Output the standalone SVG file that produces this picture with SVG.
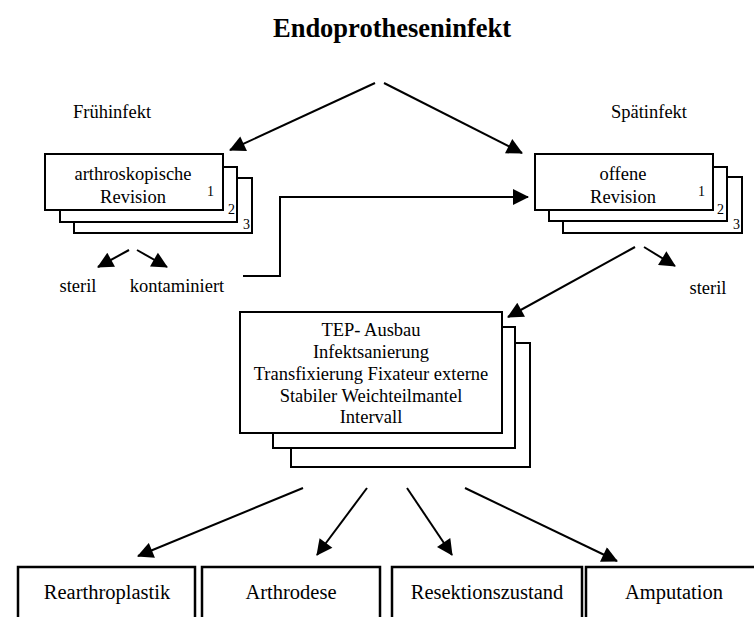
<svg xmlns="http://www.w3.org/2000/svg" width="754" height="617" viewBox="0 0 754 617">
<style>
text{font-family:"Liberation Serif","Times New Roman",serif;fill:#000}
.t{font-size:18.5px;text-anchor:middle}
.n{font-size:14px}
.b{font-size:20.5px;text-anchor:middle}
.box{fill:#fff;stroke:#000;stroke-width:2}
.ob{fill:#fff;stroke:#000;stroke-width:2.5}
.c{fill:none;stroke:#000;stroke-width:2;marker-end:url(#a)}
</style>
<defs>
<marker id="a" viewBox="0 0 16 16" refX="15" refY="8" markerWidth="17" markerHeight="16" markerUnits="userSpaceOnUse" orient="auto">
<path d="M0,0 L16,8 L0,16 Z" fill="#000"/>
</marker>
</defs>
<rect width="754" height="617" fill="#fff"/>
<text x="392" y="37" style="font-size:26.5px;font-weight:bold;text-anchor:middle">Endoprotheseninfekt</text>
<text class="t" x="112" y="118">Frühinfekt</text>
<text class="t" x="649" y="118">Spätinfekt</text>

<g id="connectors">
<line class="c" x1="375" y1="83" x2="230" y2="150"/>
<line class="c" x1="384" y1="83" x2="522" y2="153"/>
<line class="c" x1="129" y1="250" x2="98" y2="267"/>
<line class="c" x1="137" y1="250" x2="167" y2="267"/>
<polyline class="c" points="243,276 280,276 280,197 528,197"/>
<line class="c" x1="644" y1="247" x2="675" y2="266"/>
<line class="c" x1="635" y1="247" x2="508" y2="317"/>
<line class="c" x1="303" y1="488" x2="138" y2="556"/>
<line class="c" x1="367" y1="488" x2="317" y2="555"/>
<line class="c" x1="407" y1="488" x2="452" y2="555"/>
<line class="c" x1="465" y1="488" x2="617" y2="561"/>
</g>

<g id="arthroskopische-revision">
<rect class="box" x="74" y="178" width="178" height="55"/>
<rect class="box" x="60" y="167" width="177" height="55"/>
<rect class="box" x="45" y="154" width="178" height="56"/>
<text class="t" x="133" y="180">arthroskopische</text>
<text class="t" x="133" y="203">Revision</text>
<text class="n" x="207" y="196">1</text>
<text class="n" x="228" y="214">2</text>
<text class="n" x="243" y="229">3</text>
</g>

<g id="offene-revision">
<rect class="box" x="563" y="177" width="179" height="56"/>
<rect class="box" x="549" y="167" width="178" height="54"/>
<rect class="box" x="535" y="154" width="178" height="56"/>
<text class="t" x="623" y="180">offene</text>
<text class="t" x="623" y="203">Revision</text>
<text class="n" x="698" y="196">1</text>
<text class="n" x="717" y="214">2</text>
<text class="n" x="733" y="229">3</text>
</g>

<g id="steril-left"><text class="t" x="78" y="292">steril</text></g>
<g id="kontaminiert"><text class="t" x="177" y="292">kontaminiert</text></g>
<g id="steril-right"><text class="t" x="708" y="294">steril</text></g>

<g id="tep-ausbau">
<rect class="box" x="291" y="343" width="239" height="124"/>
<rect class="box" x="273" y="327" width="242" height="121"/>
<rect class="box" x="240" y="312" width="262" height="121"/>
<text class="t" x="371" y="336">TEP- Ausbau</text>
<text class="t" x="371" y="358">Infektsanierung</text>
<text class="t" x="371" y="380">Transfixierung Fixateur externe</text>
<text class="t" x="371" y="402">Stabiler Weichteilmantel</text>
<text class="t" x="371" y="423">Intervall</text>
</g>

<g id="rearthroplastik">
<rect class="ob" x="18" y="567" width="177" height="70"/>
<text class="b" x="107" y="599">Rearthroplastik</text>
</g>
<g id="arthrodese">
<rect class="ob" x="202" y="567" width="178" height="70"/>
<text class="b" x="291" y="599">Arthrodese</text>
</g>
<g id="resektionszustand">
<rect class="ob" x="392" y="567" width="190" height="70"/>
<text class="b" x="487" y="599">Resektionszustand</text>
</g>
<g id="amputation">
<rect class="ob" x="586" y="567" width="180" height="70"/>
<text class="b" x="674" y="599">Amputation</text>
</g>
</svg>
